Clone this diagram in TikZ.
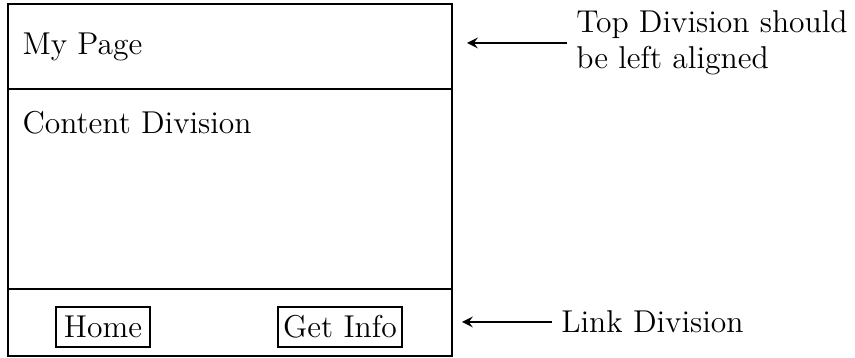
\documentclass[tikz,border=0pt]{standalone}
\usetikzlibrary{positioning, arrows}

\begin{document}
\begin{tikzpicture}[x=0.38pt, y=-0.38pt, font=\fontsize{12}{13.5}\selectfont]
        \useasboundingbox (0,0) rectangle (855,358);
        \coordinate (pageNW) at (8,4);
        \coordinate (pageSE) at (452,356);
        \coordinate (topW) at (8,89);
        \coordinate (topE) at (452,89);
        \coordinate (linkW) at (8,289);
        \coordinate (linkE) at (452,289);
        \draw[line width=1pt] (pageNW) rectangle (pageSE);
        \draw[line width=1pt] (topW) -- (topE);
        \draw[line width=1pt] (linkW) -- (linkE);
        \node[anchor=base west, inner sep=0] (mypage) at (22,55) {My Page};
        \node[anchor=base west, inner sep=0] (content) at (22,134) {Content Division};
        \node[draw, line width=0.9pt, inner xsep=3pt, minimum height=15pt] (home) at (103,327) {Home};
        \node[draw, line width=0.9pt, inner xsep=2pt, minimum height=15pt] (getinfo) at (340,327) {Get Info};
        \node[anchor=west, align=left] (topnote) at (567,43) {Top Division should\\be left aligned};
        \node[anchor=west] (linknote) at (552,322) {Link Division};
        \coordinate (topend) at (467,43);
        \coordinate (linkend) at (462,322);
        \draw[thick, -stealth] (topnote.west) -- (topend);
        \draw[thick, -stealth] (linknote.west) -- (linkend);
    \end{tikzpicture}
\end{document}
